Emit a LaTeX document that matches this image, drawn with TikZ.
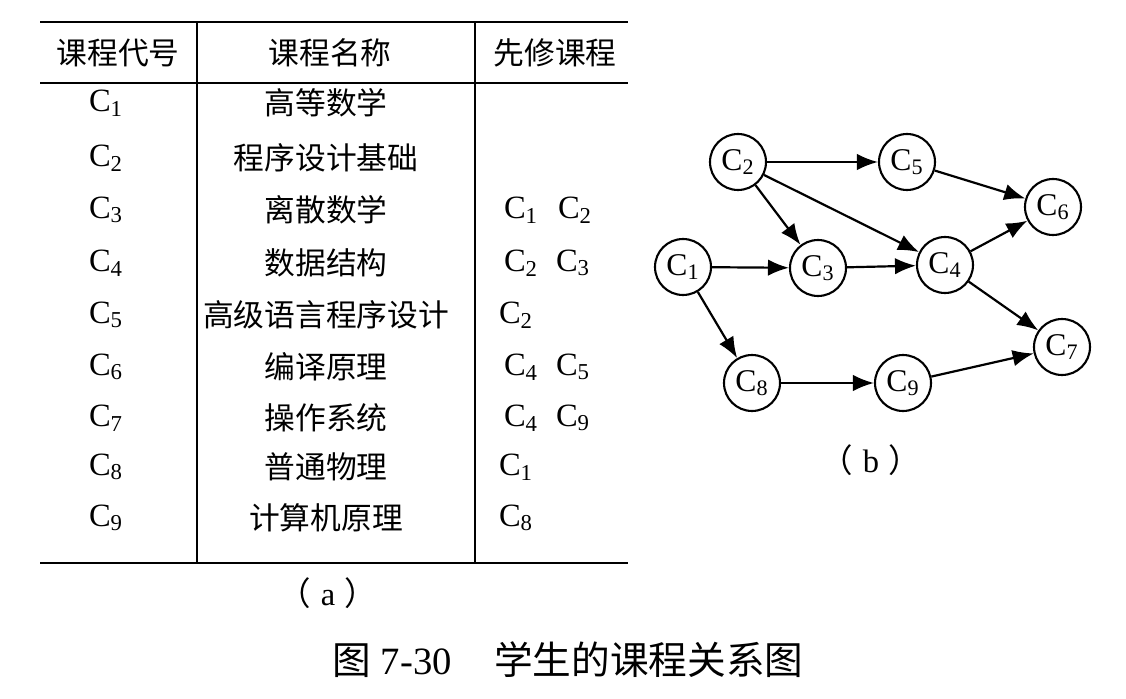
\documentclass[tikz,border=0pt]{standalone}
\usepackage{fontspec}
\setmainfont{Liberation Serif}
\newfontfamily\cjk{Noto Sans CJK SC}
\usetikzlibrary{arrows.meta}

\newcommand{\cc}[1]{C\textsubscript{#1}}

\tikzset{
  rule/.style={line width=1.1pt},
  cell/.style={inner sep=0pt,font=\fontsize{18.5}{19}\selectfont},
  cjkcell/.style={inner sep=0pt,font=\cjk\fontsize{17.5}{18}\selectfont},
  course/.style={circle,draw,line width=1.2pt,minimum size=1.12cm,inner sep=0pt,
    font=\fontsize{18}{18}\selectfont},
  prereq/.style={-{Latex[length=4.2mm,width=3.3mm]},line width=1.25pt},
}

\begin{document}
\begin{tikzpicture}[x=0.02cm,y=-0.02cm]
  \useasboundingbox (0,0) rectangle (1126,699);
  \def\tabl{40}
  \def\tabr{628}
  \def\tabt{22}
  \def\tabb{563}

  %Table rules
  \draw[rule] (\tabl,\tabt) -- (\tabr,\tabt);
  \draw[rule] (\tabl,83) -- (\tabr,83);
  \draw[rule] (\tabl,\tabb) -- (\tabr,\tabb);
  \draw[rule] (197,\tabt) -- (197,\tabb);
  \draw[rule] (475,\tabt) -- (475,\tabb);

  %Header
  \node[cjkcell] (head1) at (118,53) {课程代号};
  \node[cjkcell] (head2) at (330,53) {课程名称};
  \node[cjkcell] (head3) at (555,53) {先修课程};

  %Rows
  \foreach \i/\y/\nm in {1/103/高等数学, 2/158/程序设计基础, 3/210/离散数学,
    4/263/数据结构, 5/315/高级语言程序设计, 6/367/编译原理,
    7/418/操作系统, 8/467/普通物理, 9/518/计算机原理}
  {
    \node[cell] (code\i) at (106,\y) {\cc{\i}};
    \node[cjkcell] (name\i) at (326,\y) {\nm};
  }

  %Prerequisites
  \node[cell] (pre3a) at (521,210) {\cc{1}};
  \node[cell] (pre3b) at (575,210) {\cc{2}};
  \node[cell] (pre4a) at (521,263) {\cc{2}};
  \node[cell] (pre4b) at (573,263) {\cc{3}};
  \node[cell] (pre5a) at (516,315) {\cc{2}};
  \node[cell] (pre6a) at (521,367) {\cc{4}};
  \node[cell] (pre6b) at (573,367) {\cc{5}};
  \node[cell] (pre7a) at (521,418) {\cc{4}};
  \node[cell] (pre7b) at (573,418) {\cc{9}};
  \node[cell] (pre8a) at (516,467) {\cc{1}};
  \node[cell] (pre9a) at (516,518) {\cc{8}};

  \node[cell] (capa) at (328,593) {{\cjk （}\hspace{0.3em}a\hspace{0.3em}{\cjk ）}};

  %Graph
  \node[course] (c1) at (683,267) {\cc{1}};
  \node[course] (c2) at (738,162) {\cc{2}};
  \node[course] (c3) at (818,268) {\cc{3}};
  \node[course] (c4) at (945,265) {\cc{4}};
  \node[course] (c5) at (907,162) {\cc{5}};
  \node[course] (c6) at (1053,207) {\cc{6}};
  \node[course] (c7) at (1062,347) {\cc{7}};
  \node[course] (c8) at (752,383) {\cc{8}};
  \node[course] (c9) at (903,383) {\cc{9}};

  \draw[prereq] (c2) -- (c5);
  \draw[prereq] (c2) -- (c3);
  \draw[prereq] (c2) -- (c4);
  \draw[prereq] (c5) -- (c6);
  \draw[prereq] (c1) -- (c3);
  \draw[prereq] (c3) -- (c4);
  \draw[prereq] (c4) -- (c6);
  \draw[prereq] (c4) -- (c7);
  \draw[prereq] (c1) -- (c8);
  \draw[prereq] (c8) -- (c9);
  \draw[prereq] (c9) -- (c7);

  \node[cell] (capb) at (871,460) {{\cjk （}\hspace{0.3em}b\hspace{0.3em}{\cjk ）}};

  %Caption
  \node[inner sep=0pt,font=\fontsize{22}{22}\selectfont] (caption) at (568,660)
    {{\cjk 图} 7-30\hspace{1.1em}{\cjk 学生的课程关系图}};
\end{tikzpicture}
\end{document}
